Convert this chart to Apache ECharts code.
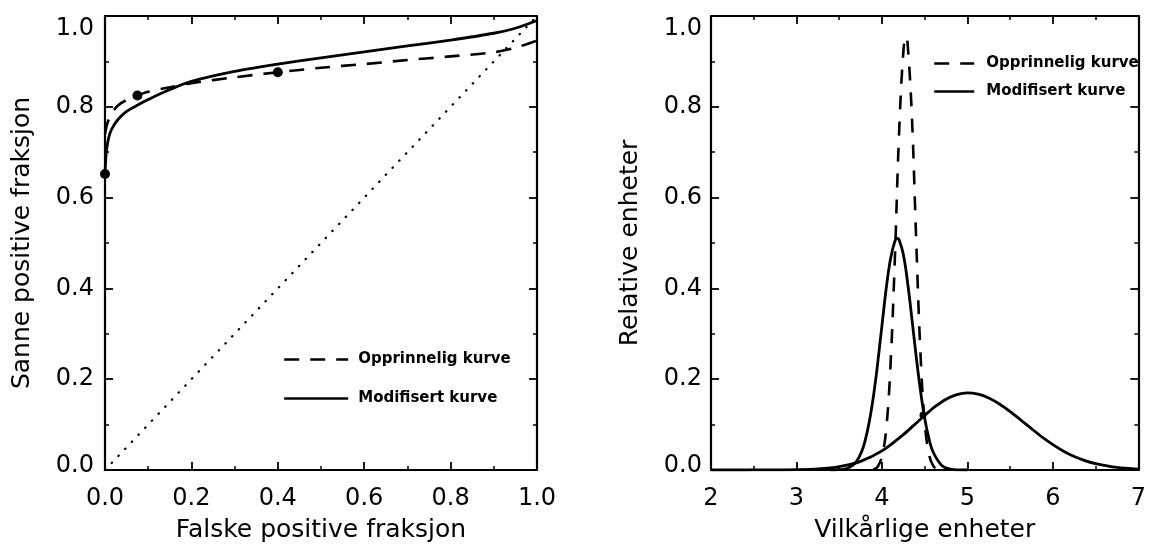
<!DOCTYPE html>
<html>
<head>
<meta charset="utf-8">
<script src="https://cdn.jsdelivr.net/npm/echarts@6/dist/echarts.min.js"></script>
<style>
  html, body { margin: 0; padding: 0; background: #fff; }
  #chart { width: 1149px; height: 548px; }
</style>
</head>
<body>
<div id="chart"></div>
<script>
// ---- ROC panel (left) ----
const rocRange = [0, 1];
const chanceFpr = [0, 1];
const chanceTpr = [0, 1];

const origRocFpr = [0, 0.005, 0.015, 0.03, 0.05, 0.075, 0.1, 0.15, 0.2, 0.3, 0.4, 0.5, 0.6, 0.7, 0.8, 0.9, 0.95, 1.0];
const origRocTpr = [0.74, 0.762, 0.785, 0.803, 0.815, 0.825, 0.833, 0.843, 0.852, 0.865, 0.876, 0.886, 0.894, 0.903, 0.911, 0.92, 0.93, 0.946];

const modRocFpr = [0, 0.003, 0.008, 0.015, 0.03, 0.05, 0.08, 0.1, 0.15, 0.2, 0.3, 0.4, 0.5, 0.6, 0.7, 0.8, 0.9, 0.95, 1.0];
const modRocTpr = [0.652, 0.70, 0.73, 0.75, 0.772, 0.79, 0.806, 0.816, 0.838, 0.856, 0.878, 0.894, 0.908, 0.921, 0.934, 0.947, 0.962, 0.973, 0.99];

const pointFpr = [0, 0.075, 0.4];
const pointTpr = [0.652, 0.825, 0.876];

// ---- distribution panel (right) ----
const distRange = [2, 7];
const origDistX = [3.9, 3.95, 4.0, 4.05, 4.1, 4.15, 4.2, 4.25, 4.28, 4.3, 4.35, 4.4, 4.45, 4.5, 4.55, 4.6, 4.65, 4.7];
const origDistY = [0.001, 0.007, 0.03, 0.09, 0.23, 0.46, 0.74, 0.92, 0.955, 0.94, 0.78, 0.51, 0.26, 0.105, 0.035, 0.009, 0.002, 0.0];

const modNarrowX = [3.4, 3.5, 3.6, 3.7, 3.8, 3.9, 4.0, 4.05, 4.1, 4.15, 4.18, 4.2, 4.25, 4.3, 4.35, 4.4, 4.45, 4.5, 4.55, 4.6, 4.7, 4.8, 4.9, 5.0];
const modNarrowY = [0.0, 0.0006, 0.004, 0.018, 0.062, 0.162, 0.318, 0.40, 0.465, 0.503, 0.51, 0.507, 0.475, 0.413, 0.334, 0.251, 0.176, 0.114, 0.069, 0.039, 0.010, 0.002, 0.0003, 0.0];

const modWideX = [2.0, 2.25, 2.5, 2.75, 3.0, 3.25, 3.5, 3.75, 4.0, 4.25, 4.375, 4.5, 4.625, 4.75, 4.875, 5.0,
                  5.125, 5.25, 5.375, 5.5, 5.625, 5.75, 5.875, 6.0, 6.125, 6.25, 6.375, 6.5, 6.75, 7.0];
const modWideY = [0.0, 0.0, 0.0001, 0.0002, 0.0007, 0.0024, 0.0075, 0.019, 0.042, 0.0778, 0.0988, 0.1201, 0.140, 0.156, 0.166, 0.17,
                  0.167, 0.1586, 0.1454, 0.1287, 0.110, 0.091, 0.0725, 0.056, 0.0415, 0.0298, 0.0208, 0.014, 0.0056, 0.002];

const crossX = [4.48];
const crossY = [0.121];

const NAME_ORIG = 'Opprinnelig kurve';
const NAME_MOD = 'Modifisert kurve';

const zip = (xs, ys) => xs.map((x, i) => [x, ys[i]]);

const FONT = 'DejaVu Sans';
const INK = '#000';

// y labels: nudge the end labels inward so they stay inside the frame
function yLabelFmt(v) {
  const s = v.toFixed(1);
  if (Math.abs(v - 1) < 1e-9) return '{hi|' + s + '}';
  if (Math.abs(v) < 1e-9) return '{lo|' + s + '}';
  return s;
}
const yRich = {
  hi: { padding: [26, 0, 0, 0], fontSize: 24, fontFamily: FONT, color: INK },
  lo: { padding: [0, 0, 8, 0], fontSize: 24, fontFamily: FONT, color: INK }
};

function frameAxis(extra) {
  return Object.assign({
    type: 'value',
    axisLine: { show: true, onZero: false, lineStyle: { color: INK, width: 2.2 } },
    axisTick: { show: true, inside: true, length: 8, lineStyle: { color: INK, width: 1.8 } },
    minorTick: { show: true, splitNumber: 2, length: 4, lineStyle: { color: INK, width: 1.5 } },
    splitLine: { show: false },
    axisLabel: { show: true, color: INK, fontFamily: FONT, fontSize: 24 },
    nameTextStyle: { color: INK, fontFamily: FONT, fontSize: 25 },
    nameLocation: 'middle'
  }, extra);
}

function legendBlock(left, top, itemWidth, itemGap, textGap) {
  return {
    left: left, top: top, orient: 'vertical', itemWidth: itemWidth, itemHeight: 14, itemGap: itemGap,
    selectedMode: false,
    data: [NAME_ORIG, NAME_MOD],
    itemStyle: { opacity: 0 },
    lineStyle: { width: 2.4, color: INK },
    textStyle: { color: INK, fontFamily: FONT, fontWeight: 'bold', fontSize: 15, padding: [0, 0, 0, textGap] }
  };
}

const option = {
  animation: false,
  backgroundColor: '#fff',
  color: [INK],
  grid: [
    { left: 105, right: 612, top: 16, bottom: 76 },
    { left: 711, right: 4, top: 16, bottom: 75 }
  ],
  xAxis: [
    frameAxis({ gridIndex: 0, position: 'bottom', min: rocRange[0], max: rocRange[1], interval: 0.2,
      name: 'Falske positive fraksjon', nameGap: 48,
      axisLabel: { color: INK, fontFamily: FONT, fontSize: 24, margin: 17, formatter: v => v.toFixed(1) } }),
    frameAxis({ gridIndex: 0, position: 'top', min: rocRange[0], max: rocRange[1], interval: 0.2,
      axisLabel: { show: false } }),
    frameAxis({ gridIndex: 1, position: 'bottom', min: distRange[0], max: distRange[1], interval: 1,
      name: 'Vilkårlige enheter', nameGap: 48,
      axisLabel: { color: INK, fontFamily: FONT, fontSize: 24, margin: 17, formatter: v => String(v) } }),
    frameAxis({ gridIndex: 1, position: 'top', min: distRange[0], max: distRange[1], interval: 1,
      axisLabel: { show: false } })
  ],
  yAxis: [
    frameAxis({ gridIndex: 0, position: 'left', min: rocRange[0], max: rocRange[1], interval: 0.2,
      name: 'Sanne positive fraksjon', nameGap: 70,
      axisLabel: { color: INK, fontFamily: FONT, fontSize: 24, margin: 11, formatter: yLabelFmt, rich: yRich } }),
    frameAxis({ gridIndex: 0, position: 'right', min: rocRange[0], max: rocRange[1], interval: 0.2,
      axisLabel: { show: false } }),
    frameAxis({ gridIndex: 1, position: 'left', min: 0, max: 1, interval: 0.2,
      name: 'Relative enheter', nameGap: 68,
      axisLabel: { color: INK, fontFamily: FONT, fontSize: 24, margin: 9, formatter: yLabelFmt, rich: yRich } }),
    frameAxis({ gridIndex: 1, position: 'right', min: 0, max: 1, interval: 0.2,
      axisLabel: { show: false } })
  ],
  legend: [
    legendBlock(278, 347, 64, 24, 5),
    legendBlock(928, 51, 40, 13, 7)
  ],
  series: [
    // chance diagonal
    { type: 'line', xAxisIndex: 0, yAxisIndex: 0, data: zip(chanceFpr, chanceTpr), symbol: 'none',
      lineStyle: { color: INK, width: 2.2, type: [0.5, 9.2], cap: 'round' }, silent: true },
    { type: 'line', name: NAME_ORIG, xAxisIndex: 0, yAxisIndex: 0, data: zip(origRocFpr, origRocTpr),
      symbol: 'none', smooth: 0.3,
      itemStyle: { color: INK },
      lineStyle: { color: INK, width: 2.6, type: [15, 11] } },
    { type: 'line', name: NAME_MOD, xAxisIndex: 0, yAxisIndex: 0, data: zip(modRocFpr, modRocTpr),
      symbol: 'none', smooth: 0.3,
      itemStyle: { color: INK },
      lineStyle: { color: INK, width: 2.8, type: 'solid' } },
    { type: 'scatter', xAxisIndex: 0, yAxisIndex: 0, data: zip(pointFpr, pointTpr),
      symbol: 'circle', symbolSize: 10, itemStyle: { color: INK, opacity: 1 }, silent: true },

    // distributions
    { type: 'line', name: NAME_ORIG, xAxisIndex: 2, yAxisIndex: 2, data: zip(origDistX, origDistY),
      symbol: 'none', smooth: 0.4,
      itemStyle: { color: INK },
      lineStyle: { color: INK, width: 2.6, type: [14, 12] } },
    { type: 'line', name: NAME_MOD, xAxisIndex: 2, yAxisIndex: 2, data: zip(modNarrowX, modNarrowY),
      symbol: 'none', smooth: 0.4,
      itemStyle: { color: INK },
      lineStyle: { color: INK, width: 2.8, type: 'solid' } },
    { type: 'line', name: NAME_MOD, xAxisIndex: 2, yAxisIndex: 2, data: zip(modWideX, modWideY),
      symbol: 'none', smooth: 0.3,
      itemStyle: { color: INK },
      lineStyle: { color: INK, width: 2.8, type: 'solid' } },
    { type: 'scatter', xAxisIndex: 2, yAxisIndex: 2, data: zip(crossX, crossY),
      symbol: 'circle', symbolSize: 7, itemStyle: { color: INK, opacity: 1 }, silent: true }
  ]
};

const chart = echarts.init(document.getElementById('chart'), null, { renderer: 'canvas' });
chart.setOption(option);
</script>
</body>
</html>
